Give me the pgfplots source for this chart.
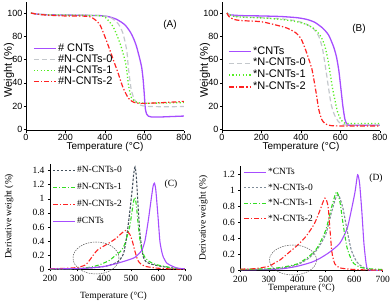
\documentclass[border=0pt]{standalone}
\usepackage{fontspec}
\setmainfont{Liberation Sans}
\newfontfamily\tnr{Liberation Serif}
\usepackage{pgfplots}
\pgfplotsset{compat=1.18}
\definecolor{cpur}{HTML}{A64DFF}
\definecolor{cgrayA}{HTML}{C4C8CC}
\definecolor{cgrnA}{HTML}{55EE22}
\definecolor{credA}{HTML}{FF2222}
\definecolor{cgrayC}{HTML}{44505C}
\definecolor{cgrayD}{HTML}{7F8C99}
\definecolor{cgrnC}{HTML}{33DD22}
\pgfplotsset{
 common/.style={scale only axis, axis lines=left, axis line style={-, line width=0.6pt},
   tick align=outside, major tick length=2pt, tick style={line width=0.5pt,black},
   /pgf/number format/assume math mode=true, no marks,
   legend cell align=left,
   legend image code/.code={\draw[##1, line width=1.4pt] (0pt,0pt) -- (22pt,0pt);},
 },
 tga/.style={common, width=158pt, height=128.7pt, xmin=0, xmax=800, ymin=-1.2, ymax=109.5,
   xtick={0,200,...,800}, ytick={0,20,...,100},
   ticklabel style={font=\fontsize{9}{10}\selectfont},
   xticklabel style={inner sep=1.2pt},
   yticklabel style={inner sep=1.5pt},
   label style={font=\fontsize{10}{11}\selectfont},
   xlabel={Temperature (°C)}, ylabel={Weight (\%)},
   xlabel style={at={([yshift=-15.8pt]axis description cs:0.5,0)}, anchor=center},
   ylabel style={at={([xshift=-17pt]axis description cs:0,0.47)}, anchor=center, font=\fontsize{11}{12}\selectfont},
   legend style={draw=none, fill=none, font=\fontsize{11}{12}\selectfont, inner sep=0pt,
     column sep=1pt, nodes={inner sep=0.5pt, text height=7.5pt, text depth=2.5pt}},
 },
 dtg/.style={common, xmin=200, xmax=700, ymin=0,
   xtick={200,300,...,700},
   ticklabel style={font=\tnr\fontsize{9.5}{10}\selectfont},
   label style={font=\tnr\fontsize{9.5}{11}\selectfont},
   xlabel={Temperature (°C)}, ylabel={Derivative weight (\%)},
   legend style={draw=none, fill=none, font=\tnr\fontsize{9.5}{11}\selectfont, inner sep=0pt,
     column sep=1pt, nodes={inner sep=0.5pt, text height=7pt, text depth=2pt}},
 },
 pur/.style={cpur, line width=1.3pt, smooth, tension=0.4},
 grA/.style={cgrayA, line width=1.2pt, dash pattern=on 5pt off 3pt, smooth, tension=0.4},
 gnA/.style={cgrnA, line width=1.3pt, dash pattern=on 1.2pt off 2.2pt, smooth, tension=0.4},
 rdA/.style={credA, line width=1.2pt, dash pattern=on 5pt off 2pt on 1.3pt off 2pt, smooth, tension=0.4},
}
\begin{document}
\begin{tikzpicture}
\useasboundingbox (0,0) rectangle (392pt,306pt);
% ---------------- (A)
\begin{axis}[tga, at={(26pt,175.3pt)}, anchor=south west,
  legend style={at={(0.044,0.681)}, anchor=north west}]
\addplot[pur] coordinates {(25,100)(60,99)(100,98.6)(200,98.3)(300,98)(375,97.8)(420,96.8)(460,94.5)(500,90)(527,84)(545,78)(560,71)(577,60)(586,53)(593,43)(599,30)(604,18)(611,13)(620,11.3)(635,10.6)(680,10.6)(740,11)(800,11.4)};
\addlegendentry{\# CNTs}
\addplot[grA] coordinates {(25,100)(60,99)(100,98.6)(200,98.4)(300,98.2)(380,97.8)(425,96.5)(466,91)(491,82.5)(510,68)(519,52)(533,34)(551,25)(577,21)(610,19.8)(700,19.4)(800,19.6)};
\addlegendentry{\#N-CNTs-0}
\addplot[gnA] coordinates {(25,100)(60,99)(100,98.5)(200,98.2)(300,98)(360,97.8)(400,96.5)(442,88)(476,74)(501,59.6)(510,51)(519,38)(533,27.5)(560,23.2)(600,22.5)(700,22.6)(800,23)};
\addlegendentry{\#N-CNTs-1}
\addplot[rdA] coordinates {(25,100)(50,99.2)(100,98.3)(200,97.5)(300,97.3)(330,96.5)(355,93.5)(375,89.7)(400,79.5)(425,68)(450,56)(466,48.5)(491,36)(519,26.6)(545,23.3)(570,22.4)(600,22.3)(700,23)(800,24)};
\addlegendentry{\#N-CNTs-2}
\end{axis}
% ---------------- (B)
\begin{axis}[tga, at={(222pt,175.3pt)}, anchor=south west,
  legend style={at={(0.038,0.658)}, anchor=north west, row sep=0.7pt}]
\addplot[pur] coordinates {(25,100)(40,98.5)(100,97.8)(200,97.5)(300,97)(380,96)(430,94.5)(470,92)(510,87)(540,81)(565,71)(580,62)(592,50)(602,35)(612,20)(622,9)(632,4.5)(650,3.5)(800,3.5)};
\addlegendentry{*CNTs}
\addplot[grA] coordinates {(25,100)(50,97.5)(100,96.8)(200,96)(300,95)(370,93.5)(420,91)(460,87)(490,80)(508,70)(518,60)(527,50)(540,35)(552,22)(568,13)(590,6.5)(615,4)(650,3.7)(800,3.7)};
\addlegendentry{*N-CNTs-0}
\addplot[gnA] coordinates {(25,100)(50,97.5)(100,96.5)(200,95.8)(300,94.5)(380,92.5)(430,90)(470,86)(500,80)(520,72)(535,61)(545,51)(560,35)(572,25)(585,15)(600,9)(615,6)(640,5)(800,5)};
\addlegendentry{*N-CNTs-1}
\addplot[rdA] coordinates {(25,100)(35,97)(60,94.5)(100,93.5)(200,92.5)(290,89)(330,87)(374,83)(400,78)(424,68)(440,60)(455,52)(466,42)(478,30)(490,17)(505,8.5)(521,5)(547,3.3)(600,2.9)(800,2.9)};
\addlegendentry{*N-CNTs-2}
\end{axis}
% ---------------- (C)
\begin{axis}[dtg, at={(50pt,36.7pt)}, anchor=south west, width=135pt, height=105.8pt, ymax=1.5,
  ytick={0,0.2,0.4,0.6,0.8,1,1.2,1.4},
  xlabel style={at={([yshift=-26.7pt]axis description cs:0.47,0)}, anchor=center},
  ylabel style={at={([xshift=-41pt]axis description cs:0,0.5)}, anchor=center},
  legend style={at={(0.015,0.985)}, anchor=north west, row sep=7pt}]
\addplot[cgrayC, line width=1.1pt, dash pattern=on 2.5pt off 1.5pt, smooth, tension=0.4] coordinates {(200,0.003)(250,0.004)(300,0.008)(350,0.02)(400,0.04)(430,0.07)(453,0.11)(472,0.22)(484,0.46)(496,0.83)(505,1.15)(510,1.35)(515,1.45)(520,1.3)(527,0.85)(533,0.51)(540,0.3)(546,0.17)(555,0.11)(570,0.08)(600,0.05)(632,0.03)(660,0.015)(700,0.005)};
\addlegendentry{\#N-CNTs-0}
\addplot[cgrnC, line width=1.1pt, dash pattern=on 4pt off 2pt on 1pt off 2pt, smooth, tension=0.4] coordinates {(200,0.003)(300,0.01)(350,0.03)(380,0.06)(400,0.09)(422,0.13)(440,0.19)(459,0.245)(470,0.3)(478,0.37)(488,0.5)(496,0.62)(503,0.8)(510,0.97)(515,1.02)(520,0.9)(527,0.62)(533,0.42)(540,0.28)(550,0.18)(564,0.12)(590,0.07)(626,0.04)(660,0.015)(700,0.005)};
\addlegendentry{\#N-CNTs-1}
\addplot[credA, line width=1.1pt, dash pattern=on 5pt off 2pt on 1.2pt off 2pt, smooth, tension=0.4] coordinates {(200,0.01)(250,0.012)(300,0.025)(330,0.06)(345,0.12)(360,0.2)(375,0.27)(395,0.32)(422,0.38)(445,0.44)(462,0.5)(480,0.55)(495,0.5)(505,0.4)(515,0.25)(525,0.13)(535,0.08)(550,0.045)(570,0.03)(600,0.015)(650,0.005)(700,0)};
\addlegendentry{\#N-CNTs-2}
\addplot[pur, line width=1.1pt] coordinates {(200,0.005)(300,0.01)(350,0.02)(400,0.04)(444,0.08)(480,0.12)(515,0.17)(540,0.27)(552,0.41)(564,0.69)(575,1.0)(582,1.18)(587,1.22)(592,1.12)(600,0.75)(607,0.4)(614,0.25)(620,0.17)(632,0.09)(644,0.06)(669,0.02)(700,0.005)};
\addlegendentry{\#CNTs}
\end{axis}
% ---------------- (D)
\begin{axis}[dtg, at={(240.3pt,35.7pt)}, anchor=south west, width=142.4pt, height=104.3pt, ymax=1.3,
  ytick={0,0.2,0.4,0.6,0.8,1,1.2},
  xlabel style={at={([yshift=-17.7pt]axis description cs:0.43,0)}, anchor=center},
  ylabel style={at={([xshift=-37pt]axis description cs:0,0.5)}, anchor=center},
  legend style={at={(0.019,0.99)}, anchor=north west, row sep=5.5pt}]
\addplot[pur, line width=1.1pt] coordinates {(200,0.005)(300,0.01)(350,0.02)(400,0.05)(450,0.1)(480,0.15)(515,0.23)(550,0.34)(575,0.52)(590,0.75)(603,0.98)(612,1.19)(619,1.08)(627,0.72)(634,0.34)(642,0.08)(650,0.005)(700,0)};
\addlegendentry{*CNTs}
\addplot[cgrayD, line width=1.1pt, dash pattern=on 2.5pt off 1.5pt, smooth, tension=0.4] coordinates {(200,0.01)(300,0.015)(350,0.03)(400,0.07)(440,0.15)(470,0.26)(500,0.45)(520,0.72)(535,0.9)(545,0.94)(560,0.78)(575,0.5)(590,0.25)(610,0.1)(630,0.04)(650,0.01)(700,0)};
\addlegendentry{*N-CNTs-0}
\addplot[cgrnC, line width=1.1pt, dash pattern=on 4pt off 2pt on 1pt off 2pt, smooth, tension=0.4] coordinates {(200,0.01)(300,0.02)(350,0.04)(400,0.08)(440,0.17)(470,0.28)(500,0.5)(520,0.78)(538,0.98)(550,0.85)(560,0.6)(575,0.28)(595,0.1)(620,0.04)(650,0.02)(700,0.01)};
\addlegendentry{*N-CNTs-1}
\addplot[credA, line width=1.1pt, dash pattern=on 5pt off 2pt on 1.2pt off 2pt, smooth, tension=0.4] coordinates {(200,0.015)(250,0.02)(300,0.05)(320,0.09)(340,0.13)(370,0.22)(400,0.31)(430,0.42)(460,0.58)(480,0.75)(497,0.9)(508,0.8)(515,0.5)(522,0.22)(532,0.08)(550,0.03)(600,0.01)(700,0)};
\addlegendentry{*N-CNTs-2}
\end{axis}
% annotations
\node[font=\fontsize{10}{11}\selectfont] at (170pt,281pt) {(A)};
\node[font=\fontsize{10}{11}\selectfont] at (359pt,277pt) {(B)};
\node[font=\tnr\fontsize{9.5}{11}\selectfont] at (171pt,121.3pt) {(C)};
\node[font=\tnr\fontsize{9.5}{11}\selectfont] at (376pt,128pt) {(D)};
\draw[black!65, line width=0.5pt, dash pattern=on 1.5pt off 1pt] (96pt,48pt) ellipse [x radius=23pt, y radius=16pt];
\draw[black!65, line width=0.5pt, dash pattern=on 1.5pt off 1pt] (293pt,46pt) ellipse [x radius=23.5pt, y radius=15pt];
\end{tikzpicture}
\end{document}
